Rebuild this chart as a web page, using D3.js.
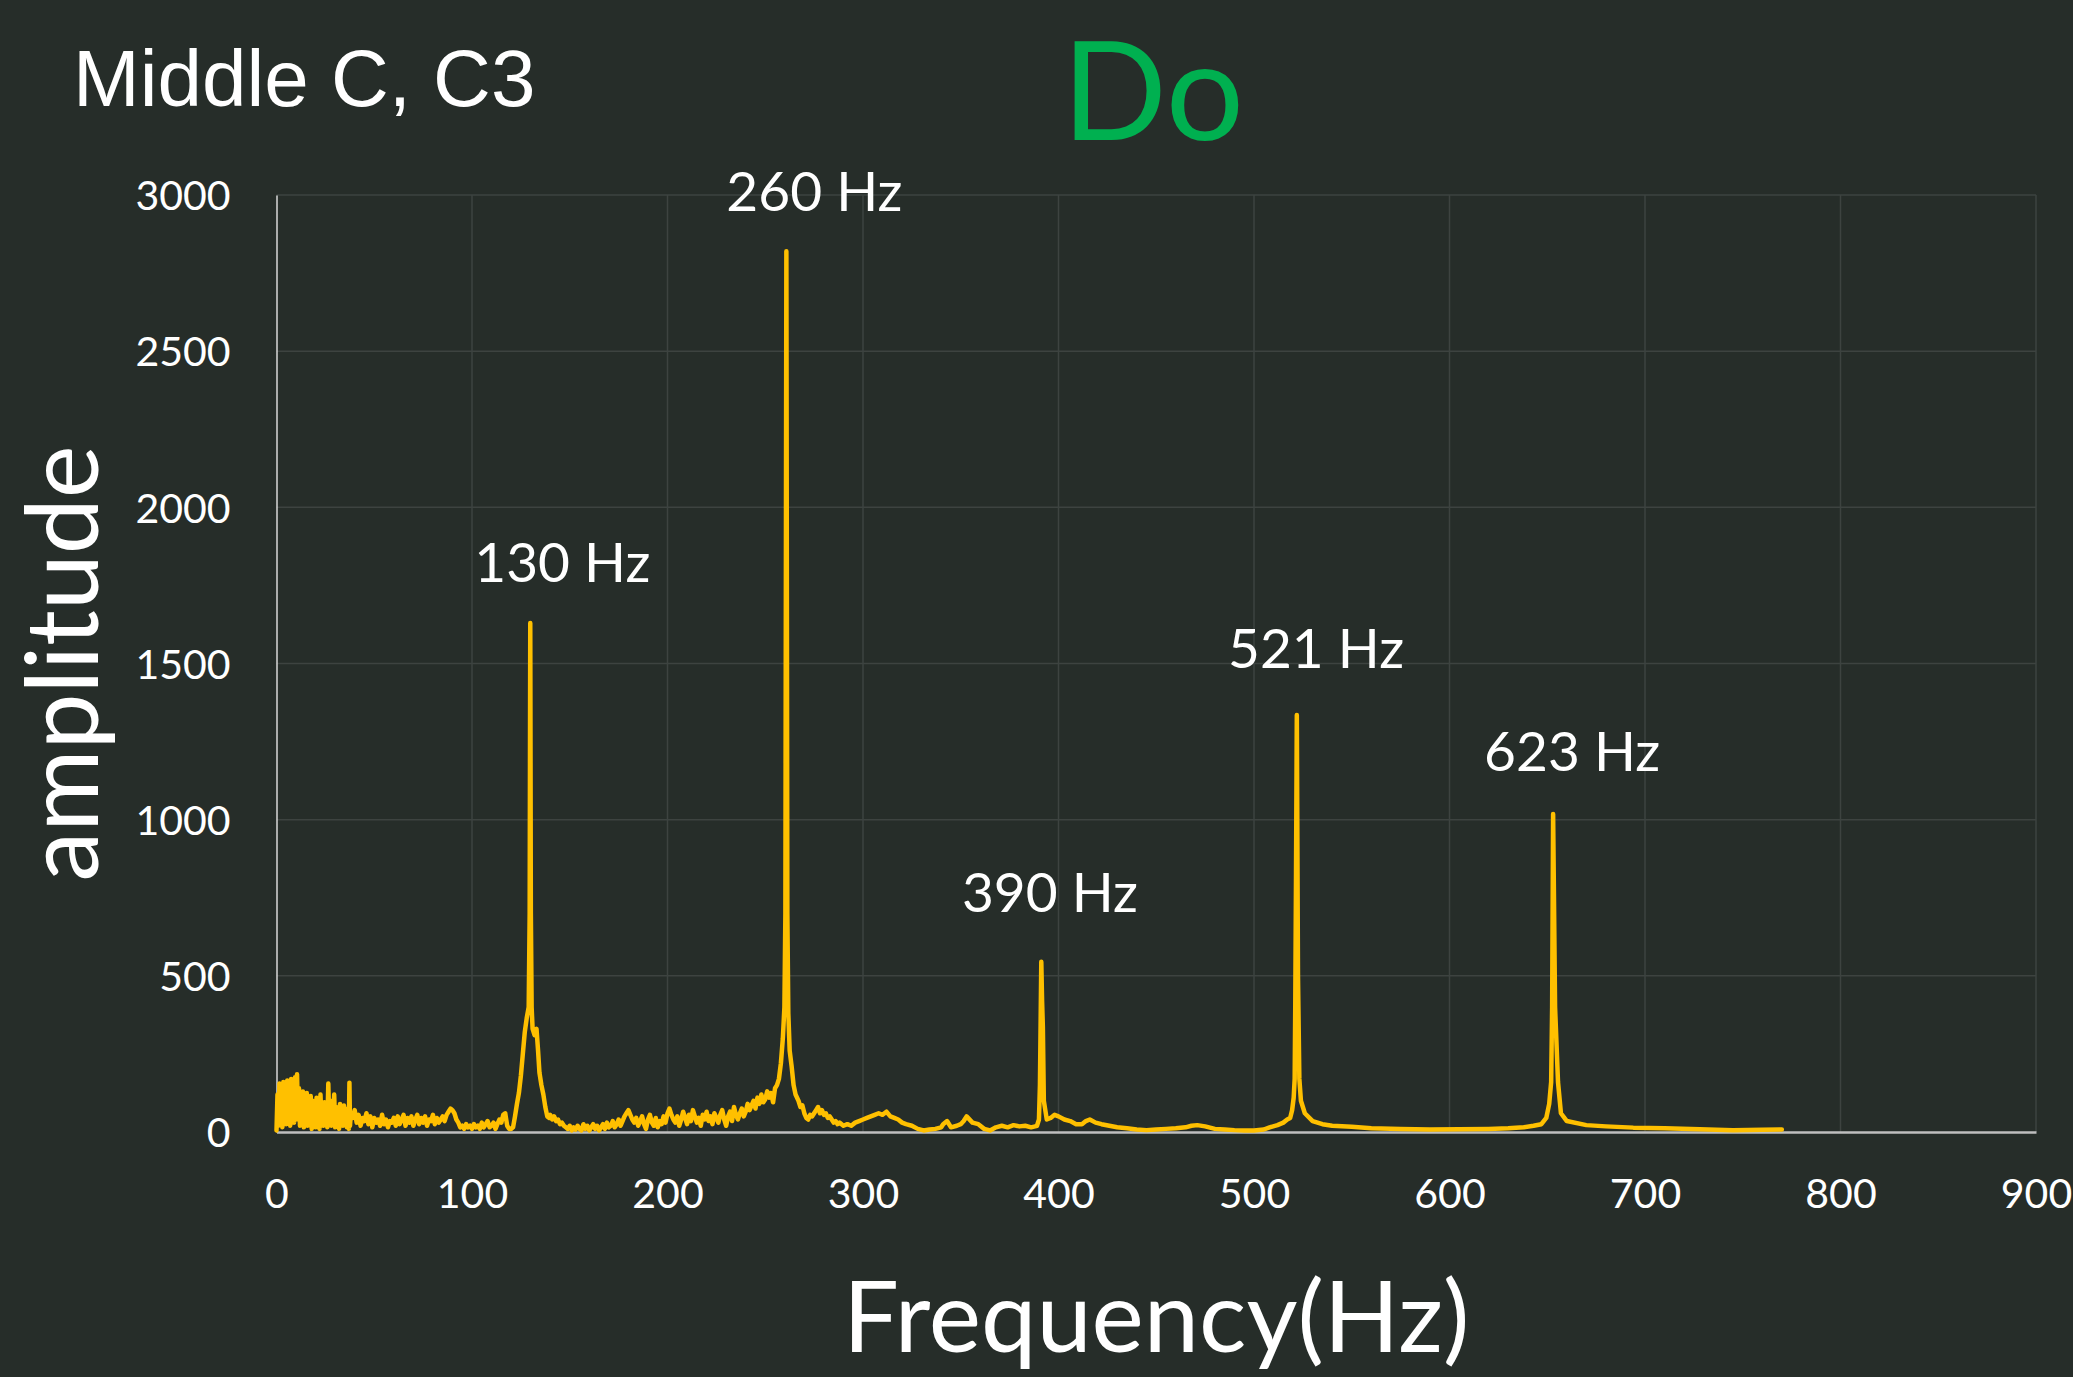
<!DOCTYPE html>
<html>
<head>
<meta charset="utf-8">
<script src="https://cdn.jsdelivr.net/npm/d3@7"></script>
<style>
  html, body { margin: 0; padding: 0; background: #262d29; }
  svg { display: block; }
</style>
</head>
<body>
<svg id="chart" width="2073" height="1377"></svg>
<script>
// ---------------- DATA ----------------
const xTicks = [0, 100, 200, 300, 400, 500, 600, 700, 800, 900];
const yTicks = [0, 500, 1000, 1500, 2000, 2500, 3000];

const peakHz    = [129.8, 260.3, 390.5, 521.5, 652.5];
const peakAmp   = [1630, 2820, 545, 1335, 1018];
const peakLabels = ["130 Hz", "260 Hz", "390 Hz", "521 Hz", "623 Hz"];

const titleText = "Middle C, C3";
const noteText  = "Do";
const xAxisTitle = "Frequency(Hz)";
const yAxisTitle = "amplitude";

const spectrumHz = [
  0,0.5,1,1.5,2,2.5,3,3.5,4,4.5,5,5.5,6,6.5,7,7.5,8,8.5,9,9.5,
  10,10.5,11,11.5,12,12.5,13,13.5,14,14.5,15,15.5,16,16.5,17,17.5,18,18.5,19,19.5,
  20,20.5,21,21.5,22,22.5,23,23.5,24,24.5,25,25.5,26,26.5,27,27.5,28,28.5,29,29.5,
  30,30.5,31,31.5,32,32.5,33,33.5,34,34.5,35,35.5,36,36.5,37,37.3,37.6,38,39,
  40,41,42,43,44,45,46,47,48,49,50,51,52,53,54,55,56,57,58,59,
  60,61,62,63,64,65,66,67,68,69,70,71,72,73,74,75,76,77,78,79,
  80,81,82,83,84,85,86,87,88,89,90,91,92,93,94,95,96,97,98,99,
  100,101,102,103,104,105,106,107,108,109,110,111,112,113,114,115,116,117,118,119,
  120,121,122,123,124,125,126,127,128,129,129.5,129.8,130.1,130.5,131,132,133,133.8,134.5,135.5,
  136.5,137.5,138.5,139.5,140,141,142,143,144,145,146,147,148,149,150,
  151,152,153,154,155,156,157,158,159,160,161,162,163,164,165,166,167,168,169,170,
  171,172,173,174,175,176,177,178,179,180,181,182,183,184,185,186,187,188,189,190,
  191,192,193,194,195,196,197,198,199,200,201,202,203,204,205,206,207,208,209,210,
  211,212,213,214,215,216,217,218,219,220,221,222,223,224,225,226,227,228,229,230,
  231,232,233,234,235,236,237,238,239,240,241,242,243,244,245,246,247,248,249,250,
  251,252,253,254,255,256,257,258,259,259.8,260.3,260.8,261.3,261.8,262.5,263.5,264.5,265.5,267,268,
  269,270,271,272,273,274,275,276,277,278,279,280,281,282,283,284,285,286,287,288,
  290,292,294,296,298,300,302,304,306,308,310,312,314,316,318,320,322,325,328,331,
  334,337,340,341,343,345,348,350,351.5,353,356,359,362,365,368,371,374,377,380,383,
  386,388,389,390,390.5,391.2,391.6,392,392.5,394,396,398,400,403,406,409,412,414,416,419,
  422,426,430,435,440,445,450,455,460,465,468,471,475,480,485,490,495,500,505,508,
  512,515,517,518.5,519.5,520.3,520.8,521.1,521.5,521.9,522.5,523.2,524,526,530,535,540,550,560,575,
  590,605,620,630,638,643,647,649.5,651,652,652.5,653,654,655.5,657,660,670,680,694,710,
  728,745,760,770
];

const spectrumAmp = [
  5,120,20,155,30,140,15,160,40,130,25,165,50,110,20,170,45,150,30,175,
  60,185,40,140,20,120,50,130,15,110,35,125,20,95,40,115,10,100,30,90,
  15,110,35,85,10,120,30,75,20,95,40,70,15,155,30,85,20,100,35,120,
  15,80,40,65,10,90,30,70,20,85,25,60,15,75,10,158,20,60,45,
  70,30,55,20,45,35,60,25,50,15,45,30,40,20,55,25,40,15,35,30,
  45,20,50,25,40,55,20,45,30,50,20,40,55,25,45,30,50,20,40,35,
  55,25,45,30,40,50,35,55,65,75,70,60,40,30,15,20,10,25,15,20,
  10,25,15,20,10,30,15,25,35,15,20,30,10,25,40,30,55,60,20,10,
  10,15,50,90,125,180,250,320,365,400,700,1630,700,400,330,310,330,260,190,150,
  120,80,50,45,55,40,50,35,40,25,30,20,15,10,20,5,
  15,8,20,10,5,25,10,20,5,15,25,10,20,5,15,25,10,30,15,20,
  35,15,25,40,20,35,50,60,70,55,40,30,45,20,35,50,25,10,40,55,
  30,20,45,15,35,25,50,30,60,75,55,40,30,50,20,40,65,45,25,55,
  35,70,50,30,45,20,55,40,65,35,50,25,60,45,30,55,70,40,20,50,
  65,35,80,55,40,60,75,50,65,90,70,85,100,75,110,90,120,95,105,130,
  110,125,95,140,150,170,220,300,400,700,2820,700,380,260,210,150,120,100,80,85,
  60,45,40,55,50,60,70,80,60,70,55,60,45,50,40,30,35,25,30,20,
  25,20,30,35,40,45,50,55,60,55,65,50,45,40,30,25,20,10,5,8,
  10,15,25,35,15,20,25,35,50,30,25,10,5,15,20,15,22,18,20,15,
  18,20,40,150,545,420,337,100,40,45,55,50,40,35,25,25,35,40,30,25,
  20,15,12,8,6,8,10,12,15,20,22,18,10,8,6,5,5,8,15,22,
  30,40,45,70,110,170,400,830,1335,500,170,100,60,35,25,20,17,12,10,8,
  9,10,12,15,20,25,45,90,160,400,1018,400,160,60,35,22,18,14,12,9,
  6,7,8,10
];

// ---------------- LAYOUT ----------------
const W = 2073, H = 1377;
const margin = { left: 276.5, right: W - 2036, top: 195, bottom: H - 1132 };
const labelOffsets = [
  { dx: 32, dy: -41 }, { dx: 29, dy: -40 }, { dx: 10, dy: -50 },
  { dx: 20, dy: -47 }, { dx: 20, dy: -43 }
];

const colors = {
  bg: "#262d29", grid: "#3d4340", yAxis: "#d9d9d9", xAxis: "#bfbfbf",
  line: "#ffc000", text: "#ffffff", note: "#00b050"
};
const chartFont = "Lato, 'Open Sans', sans-serif";

const svg = d3.select("#chart");
svg.append("rect").attr("width", W).attr("height", H).attr("fill", colors.bg);

const x = d3.scaleLinear().domain([0, 900]).range([margin.left, W - margin.right]);
const y = d3.scaleLinear().domain([0, 3000]).range([H - margin.bottom, margin.top]);

// gridlines
const grid = svg.append("g");
grid.selectAll("line.h").data(yTicks.filter(d => d > 0)).join("line")
  .attr("x1", x(0)).attr("x2", x(900))
  .attr("y1", d => y(d)).attr("y2", d => y(d))
  .attr("stroke", colors.grid).attr("stroke-width", 1.5);
grid.selectAll("line.v").data(xTicks.filter(d => d > 0)).join("line")
  .attr("x1", d => x(d)).attr("x2", d => x(d))
  .attr("y1", y(0)).attr("y2", y(3000))
  .attr("stroke", colors.grid).attr("stroke-width", 1.5);

// y axis
const yAxis = svg.append("g").attr("transform", `translate(${x(0)},0)`)
  .call(d3.axisLeft(y).tickValues(yTicks).tickSize(0).tickPadding(46).tickFormat(d3.format("d")));
yAxis.select(".domain").attr("stroke", colors.yAxis).attr("stroke-width", 1.5);
yAxis.selectAll("text").attr("fill", colors.text).attr("font-family", chartFont)
  .attr("font-size", 41).attr("dy", "0.36em");

// x axis
const xAxis = svg.append("g").attr("transform", `translate(0,${y(0)})`)
  .call(d3.axisBottom(x).tickValues(xTicks).tickSize(0).tickPadding(47).tickFormat(d3.format("d")));
xAxis.select(".domain").attr("stroke", colors.xAxis).attr("stroke-width", 2.5);
xAxis.selectAll("text").attr("fill", colors.text).attr("font-family", chartFont)
  .attr("font-size", 41).attr("dy", "0.71em");

// spectrum line
const pts = spectrumHz.map((f, i) => [f, spectrumAmp[i]]);
const line = d3.line().x(d => x(d[0])).y(d => y(d[1]));
svg.append("path").datum(pts)
  .attr("d", line).attr("fill", "none")
  .attr("stroke", colors.line).attr("stroke-width", 4.5)
  .attr("stroke-linejoin", "round").attr("stroke-linecap", "round");

// peak labels
svg.append("g").selectAll("text").data(peakLabels).join("text")
  .attr("x", (d, i) => x(peakHz[i]) + labelOffsets[i].dx)
  .attr("y", (d, i) => y(peakAmp[i]) + labelOffsets[i].dy)
  .attr("text-anchor", "middle")
  .attr("fill", colors.text).attr("font-family", chartFont).attr("font-size", 55)
  .text(d => d);

// titles
svg.append("text").attr("x", 73).attr("y", 106)
  .attr("fill", colors.text).attr("font-family", "'Liberation Sans', Arial, sans-serif")
  .attr("font-size", 80).text(titleText);

svg.append("text").attr("x", 1153).attr("y", 140).attr("text-anchor", "middle")
  .attr("fill", colors.note).attr("font-family", chartFont).attr("font-size", 138)
  .text(noteText);

svg.append("text").attr("x", (x(0) + x(900)) / 2).attr("y", 1352).attr("text-anchor", "middle")
  .attr("fill", colors.text).attr("font-family", chartFont).attr("font-size", 99)
  .text(xAxisTitle);

svg.append("text")
  .attr("transform", `translate(98,${(y(0) + y(3000)) / 2}) rotate(-90)`)
  .attr("text-anchor", "middle")
  .attr("fill", colors.text).attr("font-family", chartFont).attr("font-size", 100)
  .text(yAxisTitle);
</script>
</body>
</html>
